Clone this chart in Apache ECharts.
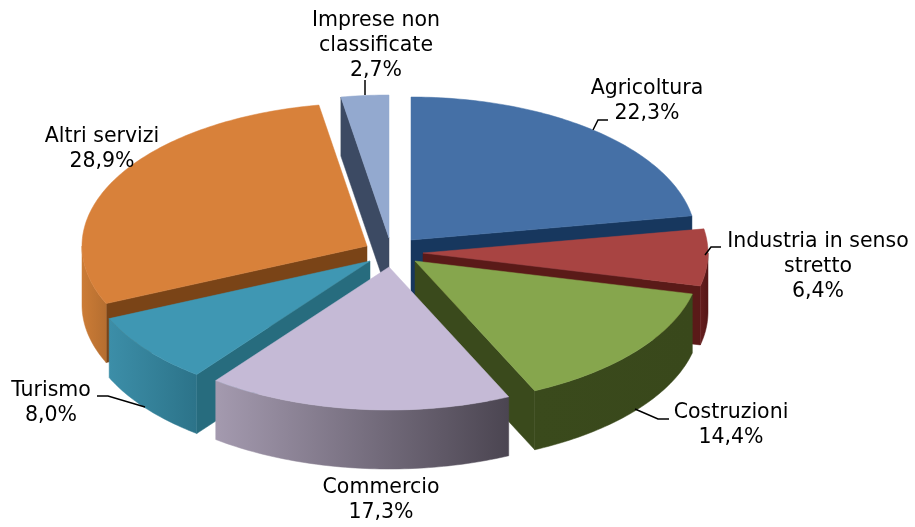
<!DOCTYPE html>
<html><head><meta charset="utf-8">
<style>html,body{margin:0;padding:0;background:#fff}#c{width:915px;height:527px}</style>
<script src="https://cdn.jsdelivr.net/npm/echarts@6/dist/echarts.min.js"></script>
</head><body><div id="c"></div>
<script>
const categories = ['Agricoltura','Industria in senso\nstretto','Costruzioni','Commercio','Turismo','Altri servizi','Imprese non\nclassificate'];
const shares = [22.3,6.4,14.4,17.3,8.0,28.9,2.7];

// Style and layout (not data)
const topColors  = ['#4570a6','#a84442','#86a64d','#c5bad6','#3f97b3','#d8813a','#93a9cf'];
const faceColors = ['#17375e','#5a1a18','#3a4a1c','#6b6278','#276c7e','#7a4417','#3c4a63'];
const sideStops  = [['#17375e','#17375e'],['#661e1e','#541616'],['#3a4a1c','#39481b'],['#a49aaf','#4b4551'],['#3c8ea8','#2c7389'],['#cc7c36','#b56e30'],['#3c4a63','#3c4a63']];
const RX = 285, RY = 143, DEPTH = 59, CX = 389, CY = 250;
const explode = [[22,-10],[34,3],[26,11],[0,17],[-19,11],[-22,-4],[0,-12]];
const paintOrder = [6,0,5,1,4,2,3];
const labelPos = [[647,101.5],[818,266.5],[731,425.5],[381,500.5],[51,403.5],[102,149.5],[376,45.5]];
const leaders = [
  [[593,130],[598,120],[608,120]],
  [[705,255],[711,247],[721,247]],
  [[635,409],[658,419],[669,419]],
  [],
  [[145,407],[108,396],[97,396]],
  [],
  [[365,95],[365,80]]
];

const total = shares.reduce((a,b)=>a+b,0);
const starts = []; let acc = 0;
shares.forEach(v => { starts.push(acc/total*360); acc += v; });
const rad = d => d*Math.PI/180;
function rim(i, deg, dy){
  return [CX+explode[i][0]+RX*Math.sin(rad(deg)), CY+explode[i][1]-RY*Math.cos(rad(deg))+(dy||0)];
}
function arcPts(i,a,b,dy){
  const pts=[], n=Math.max(2,Math.ceil(Math.abs(b-a)));
  for(let k=0;k<=n;k++) pts.push(rim(i,a+(b-a)*k/n,dy));
  return pts;
}
const fill = (c,p)=>({type:'polygon',shape:{points:p},style:{fill:c,stroke:c,lineWidth:0.5}});

function renderSlice(params, api){
  const i = paintOrder[params.dataIndex];
  const a = starts[i], b = a + shares[i]/total*360;
  const apex = [CX+explode[i][0], CY+explode[i][1]];
  const apexB = [apex[0], apex[1]+DEPTH];
  const kids = [];
  // cut faces: drawn only when they look toward the viewer
  const face = (deg, sign) => {
    const p = rim(i,deg), q = rim(i,deg,DEPTH);
    if(sign*(p[0]-apex[0])>0.01) kids.push(fill(faceColors[i],[apex,p,q,apexB]));
  };
  face(a,-1); face(b,1);
  // outer wall
  const f = Math.max(a,90), t = Math.min(b,270);
  if(t>f){
    const up = arcPts(i,f,t,0), dn = arcPts(i,t,f,DEPTH);
    const c = sideStops[i];
    kids.push(fill(new echarts.graphic.LinearGradient(0,0,1,0,[{offset:0,color:c[0]},{offset:1,color:c[1]}]),up.concat(dn)));
  }
  // top
  kids.push(fill(topColors[i],[apex].concat(arcPts(i,a,b,0))));
  return {type:'group',children:kids,silent:true};
}

function renderLabel(params, api){
  const i = params.dataIndex;
  const kids = [];
  if(leaders[i].length) kids.push({type:'polyline',shape:{points:leaders[i]},style:{fill:null,stroke:'#000',lineWidth:1.5}});
  kids.push({type:'text',x:labelPos[i][0],y:labelPos[i][1],style:{
    text:categories[i]+'\n'+shares[i].toFixed(1).replace('.',',')+'%',
    font:'20.5px "DejaVu Sans"',fill:'#000',align:'center',verticalAlign:'middle',lineHeight:25
  }});
  return {type:'group',children:kids,silent:true};
}

const chart = echarts.init(document.getElementById('c'),null,{renderer:'canvas'});
chart.setOption({
  animation:false,
  backgroundColor:'#fff',
  series:[
    {type:'custom',coordinateSystem:'none',renderItem:renderSlice,data:paintOrder.map(i=>shares[i]),silent:true,z:2},
    {type:'custom',coordinateSystem:'none',renderItem:renderLabel,data:shares,silent:true,z:3}
  ]
});
</script></body></html>
